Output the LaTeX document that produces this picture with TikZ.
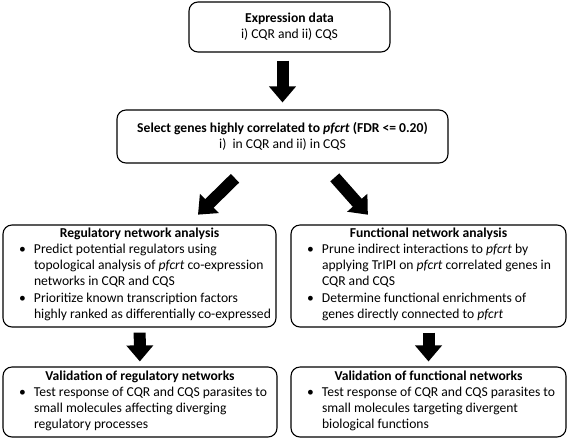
\documentclass[tikz,border=0pt]{standalone}
\usepackage{fontspec}
\setmainfont{Carlito}
\usetikzlibrary{positioning,arrows.meta}
\newcommand{\bitem}[1]{\par\noindent\makebox[28pt][l]{\hspace{13pt}\textbullet}\begin{tabular}[t]{@{}l@{}}#1\end{tabular}\par}
\newcommand{\bhead}[1]{\noindent\makebox[\linewidth][c]{\bfseries #1}\par}

\begin{document}
\begin{tikzpicture}[x=1pt, y=-1pt,
  box/.style={draw, line width=1.1pt, rounded corners=9pt, align=center, inner sep=3pt, font=\fontsize{13.6}{16}\selectfont},
  lst/.style={box, align=flush left, inner xsep=3pt, inner ysep=2pt},
  blk/.style={-{Triangle[width=26pt, length=16pt]}, line width=12pt}
]
\useasboundingbox (0,0) rectangle (567,440);
% top of the pipeline
\node[box, minimum width=201pt, minimum height=50pt] (expr) at (289.5,27) {\textbf{Expression data}\\i) CQR and ii) CQS};
\node[box, minimum width=331pt, minimum height=53pt] (sel) at (282.5,136.5) {\textbf{Select genes highly correlated to \textit{pfcrt} (FDR <= 0.20)}\\i)\ \ in CQR and ii) in CQS};
% network analyses
\node[lst, text width=267pt, minimum height=102pt] (reg) at (139.5,276) {\bhead{Regulatory network analysis}
  \bitem{Predict potential regulators using\\topological analysis of \textit{pfcrt} co-expression\\networks in CQR and CQS}
  \bitem{Prioritize known transcription factors\\highly ranked as differentially co-expressed}};
\node[lst, text width=269pt, minimum height=102pt] (fun) at (428.5,276) {\bhead{Functional network analysis}
  \bitem{Prune indirect interactions to \textit{pfcrt} by\\applying TrIPI on \textit{pfcrt} correlated genes in\\CQR and CQS}
  \bitem{Determine functional enrichments of\\genes directly connected to \textit{pfcrt}}};
% validation
\node[lst, text width=268pt, minimum height=70pt] (vreg) at (140,402) {\bhead{Validation of regulatory networks}
  \bitem{Test response of CQR and CQS parasites to\\small molecules affecting diverging\\regulatory processes}};
\node[lst, text width=269pt, minimum height=70pt] (vfun) at (428.5,402) {\bhead{Validation of functional networks}
  \bitem{Test response of CQR and CQS parasites to\\small molecules targeting divergent\\biological functions}};
\draw[blk, shorten <=8pt, shorten >=7pt] ([xshift=-7pt]expr.south) -- ([xshift=0pt]sel.north);
\draw[blk, shorten <=21pt, shorten >=14pt] ([xshift=-32.5pt]sel.south) -- ([xshift=48.5pt]reg.north);
\draw[blk, shorten <=18.5pt, shorten >=13pt] ([xshift=40pt]sel.south) -- ([xshift=-52pt]fun.north);
\draw[blk, shorten <=5pt, shorten >=5pt] (reg) -- (vreg);
\draw[blk, shorten <=5pt, shorten >=5pt] (fun) -- (vfun);
\end{tikzpicture}
\end{document}
